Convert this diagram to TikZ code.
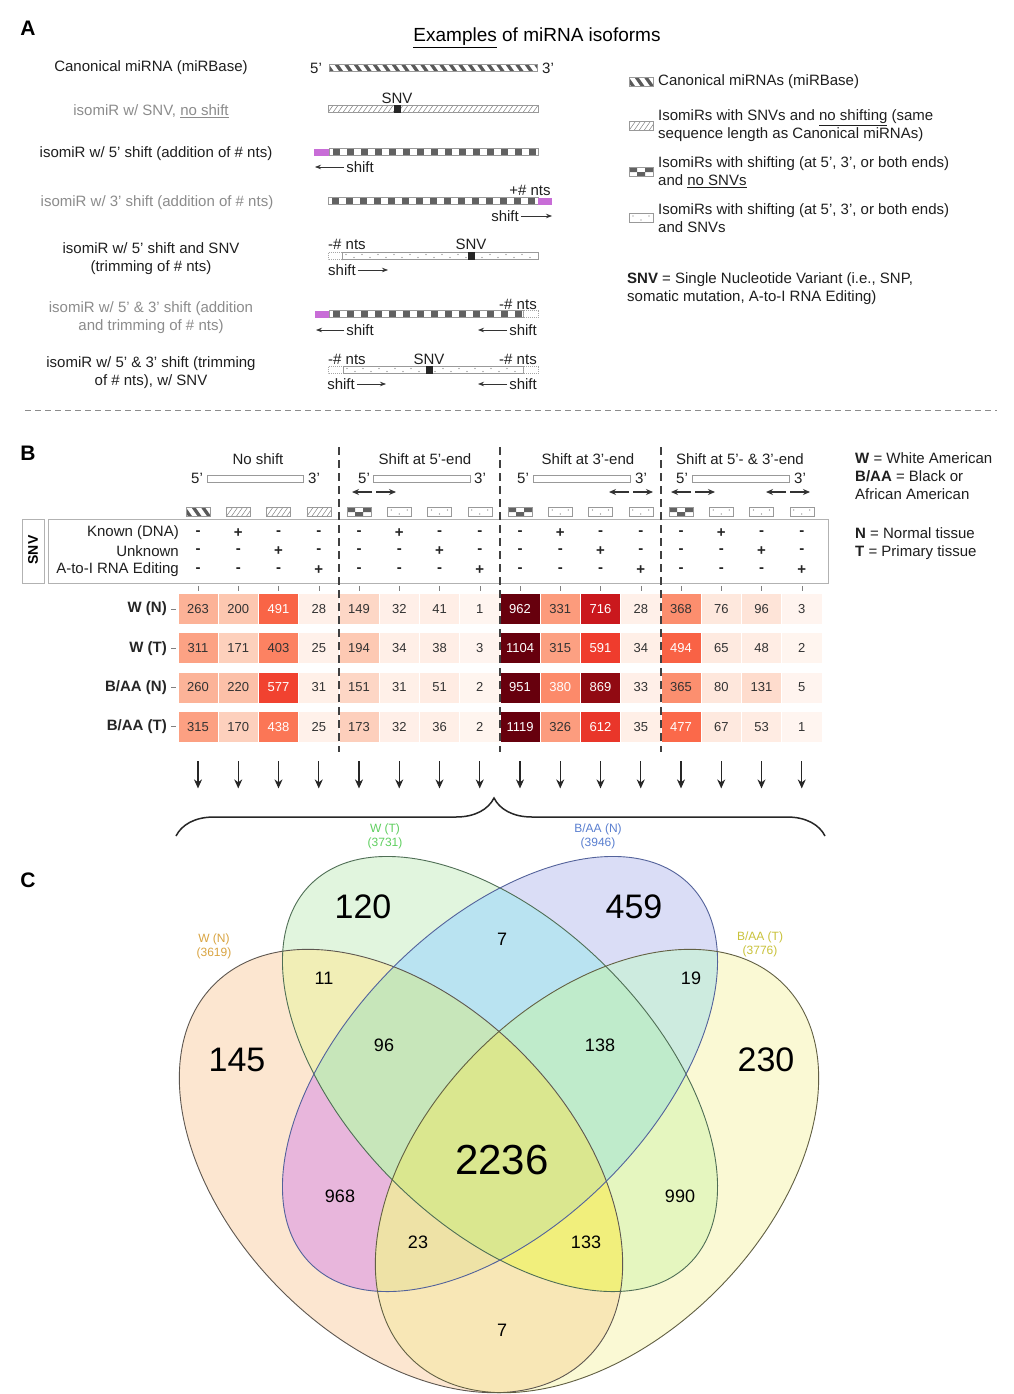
\documentclass[tikz,border=0pt]{standalone}
\usepackage{fontspec}
\setmainfont{Liberation Sans}
\usetikzlibrary{arrows.meta,positioning,decorations.pathreplacing}

\definecolor{rd0}{HTML}{FFF5F0}
\definecolor{rd1}{HTML}{FEE0D2}
\definecolor{rd2}{HTML}{FCBBA1}
\definecolor{rd3}{HTML}{FC9272}
\definecolor{rd4}{HTML}{FB6A4A}
\definecolor{rd5}{HTML}{EF3B2C}
\definecolor{rd6}{HTML}{CB181D}
\definecolor{rd7}{HTML}{A50F15}
\definecolor{rd8}{HTML}{67000D}
\definecolor{addpurple}{HTML}{C86DD7}
\definecolor{lwn}{HTML}{D9A441}
\definecolor{lwt}{HTML}{5FCF5F}
\definecolor{lban}{HTML}{5A7FD0}
\definecolor{lbat}{HTML}{C9C23A}
% Venn region colours
\definecolor{cA}{HTML}{FCE6D0}
\definecolor{cB}{HTML}{E1F5DE}
\definecolor{cC}{HTML}{DADDF6}
\definecolor{cD}{HTML}{FAF9D4}
\definecolor{cAB}{HTML}{F1EEB6}
\definecolor{cAC}{HTML}{E8B6DC}
\definecolor{cAD}{HTML}{F8E7B6}
\definecolor{cBC}{HTML}{B9E3F1}
\definecolor{cBD}{HTML}{E5F6BF}
\definecolor{cCD}{HTML}{CDEBDF}
\definecolor{cABC}{HTML}{C7E6BA}
\definecolor{cABD}{HTML}{F1EF7C}
\definecolor{cACD}{HTML}{EEE2A6}
\definecolor{cBCD}{HTML}{BFEBCB}
\definecolor{cABCD}{HTML}{DAE78F}
\definecolor{oA}{HTML}{5E5750}
\definecolor{oB}{HTML}{4F6E55}
\definecolor{oC}{HTML}{53629A}
\definecolor{oD}{HTML}{626043}

\tikzset{
  every picture/.style={font=\fontsize{15}{18}\selectfont},
  lbl/.style={align=center, inner sep=0pt, text=black!88},
  glbl/.style={lbl, text=black!45},
  panlbl/.style={font=\fontsize{21}{24}\selectfont\bfseries, inner sep=0pt},
  barline/.style={draw=black!40, line width=0.5pt},
  trimline/.style={draw=black!35, line width=0.5pt, dash pattern=on 1pt off 1pt},
  shiftarr/.style={-{Stealth[length=6pt,width=4.5pt]}, line width=0.7pt, black!80},
  duoarr/.style={-{Stealth[length=7pt,width=6pt]}, line width=1.2pt, black!80},
  sepline/.style={black!75, line width=1.8pt, dash pattern=on 8pt off 5pt},
  sign/.style={font=\fontsize{15}{18}\selectfont\bfseries, inner sep=0pt, text=black!85},
  heat/.style={rectangle, minimum width=40.25pt, minimum height=31pt, inner sep=0pt,
    draw=white, line width=0.6pt, font=\fontsize{13}{15}\selectfont},
  rowlbl/.style={anchor=east, inner sep=0pt, font=\fontsize{15}{18}\selectfont\bfseries, text=black!85},
  downarr/.style={-{Stealth[length=9pt,width=8pt]}, line width=1.1pt, black!85},
  bignum/.style={font=\fontsize{34}{40}\selectfont, inner sep=0pt},
  smallnum/.style={font=\fontsize{18}{22}\selectfont, inner sep=0pt},
  setlbl/.style={font=\fontsize{12}{14}\selectfont, align=center, inner sep=0pt},
  vring/.style={line width=0.9pt}
}

% bar fillings: x1 x2 y halfheight
\newcommand{\canonfill}[4]{%
  \begin{scope}
    \clip (#1,#3-#4) rectangle (#2,#3+#4);
    \pgfmathtruncatemacro{\nseg}{(#2-#1)/9.5+1}
    \foreach \k in {0,...,\nseg}
      \fill[black!65] (#1+9.5*\k-4,#3-#4) -- ++(4,0) -- ++(1.4*#4,2*#4) -- ++(-4,0) -- cycle;
  \end{scope}}
\newcommand{\hatchfill}[4]{%
  \begin{scope}
    \clip (#1,#3-#4) rectangle (#2,#3+#4);
    \pgfmathtruncatemacro{\nseg}{(#2-#1)/5+2}
    \foreach \k in {0,...,\nseg}
      \draw[black!50, line width=0.5pt] (#1+5*\k-5,#3+#4) -- ++(1.4*#4,-2*#4);
  \end{scope}}
\newcommand{\chkfill}[4]{%
  \begin{scope}
    \clip (#1,#3-#4) rectangle (#2,#3+#4);
    \pgfmathtruncatemacro{\nseg}{(#2-#1)/14+1}
    \foreach \k in {0,...,\nseg}
      \fill[black!62] (#1+14*\k+3.5,#3-#4) rectangle ++(7,2*#4);
  \end{scope}}
\newcommand{\spotfill}[4]{%
  \pgfmathtruncatemacro{\nseg}{(#2-#1)/8-1}
  \foreach \k in {0,...,\nseg}{
    \pgfmathtruncatemacro{\kodd}{mod(\k,2)}
    \pgfmathsetmacro{\kdy}{#3+#4*0.45*(2*\kodd-1)}
    \fill[black!55] (#1+4+8*\k,\kdy) circle (0.6);}}
\newcommand{\barframe}[4]{\draw[barline] (#1,#3-#4) rectangle (#2,#3+#4);}
\newcommand{\trimbox}[3]{\draw[trimline] (#1,#3-3.5) rectangle (#2,#3+3.5);}
\newcommand{\addbox}[3]{\fill[addpurple] (#1,#3-3.5) rectangle (#2,#3+3.5);}
\newcommand{\snvmark}[2]{\fill[black!85] (#1-3.5,#2-4) rectangle (#1+3.5,#2+4);}

\newcommand{\canonbar}[3]{\canonfill{#1}{#2}{#3}{3.5}\barframe{#1}{#2}{#3}{3.5}}
\newcommand{\hatchbar}[3]{\hatchfill{#1}{#2}{#3}{3.5}\barframe{#1}{#2}{#3}{3.5}}
\newcommand{\chkbar}[3]{\chkfill{#1}{#2}{#3}{3.5}\barframe{#1}{#2}{#3}{3.5}}
\newcommand{\spotbar}[3]{\spotfill{#1}{#2}{#3}{3.5}\barframe{#1}{#2}{#3}{3.5}}

% small legend icons: x-centre y
\newcommand{\icanon}[2]{\pgfmathsetmacro{\ila}{#1-12}\pgfmathsetmacro{\ilb}{#1+12}%
  \canonfill{\ila}{\ilb}{#2}{4.5}\barframe{\ila}{\ilb}{#2}{4.5}}
\newcommand{\ihatch}[2]{\pgfmathsetmacro{\ila}{#1-12}\pgfmathsetmacro{\ilb}{#1+12}%
  \hatchfill{\ila}{\ilb}{#2}{4.5}\barframe{\ila}{\ilb}{#2}{4.5}}
\newcommand{\ichk}[2]{\pgfmathsetmacro{\ila}{#1-12}\pgfmathsetmacro{\ilb}{#1+12}%
  \fill[black!62] (\ila,#2-4.5) rectangle ++(8,4.5) (\ila+16,#2-4.5) rectangle ++(8,4.5)
    (\ila+8,#2) rectangle ++(8,4.5);
  \barframe{\ila}{\ilb}{#2}{4.5}}
\newcommand{\ispot}[2]{\pgfmathsetmacro{\ila}{#1-12}\pgfmathsetmacro{\ilb}{#1+12}%
  \spotfill{\ila}{\ilb}{#2}{4.5}\barframe{\ila}{\ilb}{#2}{4.5}}

% the four Venn sets
\newcommand{\shpA}{[rotate around={-45:(cwn)}] (cwn) ellipse [x radius=264, y radius=169]}
\newcommand{\shpB}{[rotate around={-45:(cwt)}] (cwt) ellipse [x radius=268, y radius=151]}
\newcommand{\shpC}{[rotate around={45:(cban)}] (cban) ellipse [x radius=268, y radius=151]}
\newcommand{\shpD}{[rotate around={45:(cbat)}] (cbat) ellipse [x radius=264, y radius=169]}

\begin{document}
\begin{tikzpicture}[x=1pt,y=-1pt]
\useasboundingbox (0,0) rectangle (1013,1394);
\fill[white] (0,0) rectangle (1013,1394);

%panel A
\node[panlbl] (pA) at (28,28) {A};
\node[font=\fontsize{19}{22}\selectfont, inner sep=0pt] (ttl) at (537,38) {\underline{Examples} of miRNA isoforms};

\node[lbl] (r1) at (151,68) {Canonical miRNA (miRBase)};
\node[glbl] (r2) at (151,111) {isomiR w/ SNV, \underline{no shift}};
\node[lbl] (r3) at (156,154) {isomiR w/ 5' shift (addition of \# nts)};
\node[glbl] (r4) at (157,203) {isomiR w/ 3' shift (addition of \# nts)};
\node[lbl] (r5) at (151,259) {isomiR w/ 5' shift and SNV\\(trimming of \# nts)};
\node[glbl] (r6) at (151,318) {isomiR w/ 5' \& 3' shift (addition\\and trimming of \# nts)};
\node[lbl] (r7) at (151,373) {isomiR w/ 5' \& 3' shift (trimming\\of \# nts), w/ SNV};

% canonical
\node[lbl] (e5a) at (316,68) {5'};
\canonbar{329}{537}{68}
\node[lbl] (e3a) at (548,68) {3'};
% SNV, no shift
\hatchbar{328}{538}{109}
\snvmark{397}{109}
\node[lbl] (snvb) at (397,98) {SNV};
% 5' addition
\addbox{314}{329}{152}
\chkbar{329}{538}{152}
\node[lbl, inner sep=2pt] (shc) at (360,167) {shift};
\coordinate (shcend) at (315,167);
\draw[shiftarr] (shc) -- (shcend);
% 3' addition
\chkbar{328}{538}{201}
\addbox{538}{552}{201}
\node[lbl] (ntsd) at (530,190) {+\# nts};
\node[lbl, inner sep=2pt] (shd) at (505,216) {shift};
\coordinate (shdend) at (552,216);
\draw[shiftarr] (shd) -- (shdend);
% 5' trimming with SNV
\trimbox{328}{342}{256}
\spotbar{342}{538}{256}
\snvmark{471}{256}
\node[lbl] (ntse) at (347,244) {-\# nts};
\node[lbl] (snve) at (471,244) {SNV};
\node[lbl, inner sep=2pt] (she) at (342,270) {shift};
\coordinate (sheend) at (388,270);
\draw[shiftarr] (she) -- (sheend);
% 5' addition, 3' trimming
\addbox{315}{329}{314}
\chkbar{329}{523}{314}
\trimbox{523}{538}{314}
\node[lbl] (ntsf) at (518,304) {-\# nts};
\node[lbl, inner sep=2pt] (shf1) at (360,330) {shift};
\coordinate (shf1end) at (316,330);
\draw[shiftarr] (shf1) -- (shf1end);
\node[lbl, inner sep=2pt] (shf2) at (523,330) {shift};
\coordinate (shf2end) at (478,330);
\draw[shiftarr] (shf2) -- (shf2end);
% both trimmed with SNV
\trimbox{328}{343}{370}
\spotbar{343}{523}{370}
\trimbox{523}{538}{370}
\snvmark{429}{370}
\node[lbl] (ntsg1) at (347,359) {-\# nts};
\node[lbl] (snvg) at (429,359) {SNV};
\node[lbl] (ntsg2) at (518,359) {-\# nts};
\node[lbl, inner sep=2pt] (shg1) at (341,384) {shift};
\coordinate (shg1end) at (386,384);
\draw[shiftarr] (shg1) -- (shg1end);
\node[lbl, inner sep=2pt] (shg2) at (523,384) {shift};
\coordinate (shg2end) at (478,384);
\draw[shiftarr] (shg2) -- (shg2end);

% legend
\icanon{641}{82}
\node[lbl, anchor=west, align=left] (lg1) at (658,82) {Canonical miRNAs (miRBase)};
\ihatch{641}{126}
\node[lbl, anchor=west, align=left] (lg2) at (658,126) {IsomiRs with SNVs and \underline{no shifting} (same\\sequence length as Canonical miRNAs)};
\ichk{641}{172}
\node[lbl, anchor=west, align=left] (lg3) at (658,172) {IsomiRs with shifting (at 5', 3', or both ends)\\and \underline{no SNVs}};
\ispot{641}{218}
\node[lbl, anchor=west, align=left] (lg4) at (658,218) {IsomiRs with shifting (at 5', 3', or both ends)\\and SNVs};
\node[lbl, anchor=west, align=left] (lgsnv) at (627,289) {\textbf{SNV} = Single Nucleotide Variant (i.e., SNP,\\somatic mutation, A-to-I RNA Editing)};

\coordinate (cutL) at (25,410);
\coordinate (cutR) at (997,410);
\draw[black!45, line width=0.8pt, dash pattern=on 6pt off 4pt] (cutL) -- (cutR);

%panel B
\node[panlbl] (pB) at (28,453) {B};
\node[lbl] (gh1) at (258,459) {No shift};
\node[lbl] (gh2) at (425,459) {Shift at 5'-end};
\node[lbl] (gh3) at (588,459) {Shift at 3'-end};
\node[lbl] (gh4) at (740,459) {Shift at 5'- \& 3'-end};
\foreach \pa/\pb/\pc/\pd [count=\q] in {197/207/303/314, 364/373/470/480, 523/533/630/641, 682/692/789/800}{
  \node[lbl] (gf\q) at (\pa,478) {5'};
  \draw[barline, fill=white] (\pb,475) rectangle (\pc,482);
  \node[lbl] (gt\q) at (\pd,478) {3'};
}
\foreach \mid [count=\q] in {374,631,693,788}{
  \coordinate (dl\q) at (\mid-22,492);
  \coordinate (dr\q) at (\mid+22,492);
  \coordinate (dm\q) at (\mid,492);
  \draw[duoarr] ([xshift=-2pt]dm\q) -- (dl\q);
  \draw[duoarr] ([xshift=2pt]dm\q) -- (dr\q);
}

% SNV table
\draw[black!30, line width=0.7pt] (48,519) rectangle (828,583);
\draw[black!30, line width=0.7pt] (22,519) rectangle (44,583);
\node[rotate=90, font=\fontsize{14}{16}\selectfont\bfseries, inner sep=0pt] (snvt) at (33,550) {SNV};
\node[lbl, anchor=east] (tk1) at (179,533) {Known (DNA)};
\node[lbl, anchor=east] (tk2) at (179,551) {Unknown};
\node[lbl, anchor=east] (tk3) at (179,570) {A-to-I RNA Editing};

\foreach \c in {0,...,15}{
  \pgfmathsetmacro{\cx}{198+40.25*\c}
  \pgfmathtruncatemacro{\gi}{mod(\c,4)}
  \pgfmathtruncatemacro{\gn}{div(\c,4)}
  \ifnum\gi=0
    \ifnum\gn=0 \icanon{\cx}{512}\else\ichk{\cx}{512}\fi
  \else
    \ifnum\gn=0 \ihatch{\cx}{512}\else\ispot{\cx}{512}\fi
  \fi
  \foreach \r/\ry in {1/533,2/551,3/570}{
    \ifnum\gi=\r\relax\def\sg{+}\else\def\sg{-}\fi
    \node[sign] (sg\c-\r) at (\cx,\ry) {\sg};
  }
  \draw[black!50, line width=0.5pt] (\cx,586) -- (\cx,591);
}

% heatmap
\foreach \v [count=\k from 0] in {263,200,491,28,149,32,41,1,962,331,716,28,368,76,96,3,
  311,171,403,25,194,34,38,3,1104,315,591,34,494,65,48,2,
  260,220,577,31,151,31,51,2,951,380,869,33,365,80,131,5,
  315,170,438,25,173,32,36,2,1119,326,612,35,477,67,53,1}{
  \pgfmathtruncatemacro{\hr}{div(\k,16)}
  \pgfmathtruncatemacro{\hc}{mod(\k,16)}
  \pgfmathsetmacro{\hx}{198+40.25*\hc}
  \pgfmathsetmacro{\hy}{609+39.2*\hr}
  \pgfmathsetmacro{\hs}{min(\v/950,1)*8}
  \pgfmathtruncatemacro{\hi}{min(floor(\hs),7)}
  \pgfmathtruncatemacro{\hj}{\hi+1}
  \pgfmathsetmacro{\hp}{(\hs-\hi)*100}
  \colorlet{cellc}{rd\hj!\hp!rd\hi}
  \pgfmathtruncatemacro{\hw}{(\v>430)||(\v==380)}
  \ifnum\hw=1 \def\htc{white}\else\def\htc{black!80}\fi
  \node[heat, fill=cellc, text=\htc] (h\hr-\hc) at (\hx,\hy) {\v};
}
\foreach \lab [count=\q from 0] in {W (N),W (T),B/AA (N),B/AA (T)}{
  \node[rowlbl] (rl\q) at (167,609+39.2*\q) {\lab};
  \draw[black!50, line width=0.5pt] (171,609+39.2*\q) -- (176,609+39.2*\q);
}
\foreach \sx in {339,500,661}
  \draw[sepline] (\sx,447) -- (\sx,752);

\node[lbl, anchor=north west, align=left] (keyA) at (855,452) {\textbf{W} = White American\\\textbf{B/AA} = Black or\\African American};
\node[lbl, anchor=north west, align=left] (keyB) at (855,527) {\textbf{N} = Normal tissue\\\textbf{T} = Primary tissue};

% arrows to the Venn diagram
\foreach \c in {0,...,15}
  \draw[downarr] (h3-\c.south) ++(0,19) -- ++(0,27);
\coordinate (brL) at (176,836);
\coordinate (brR) at (825,836);
\draw[decorate, decoration={brace, amplitude=38pt, aspect=0.49}, line width=1.5pt, black!85] (brL) -- (brR);

%panel C
\node[panlbl] (pC) at (28,880) {C};
\coordinate (cwn) at (401,1171);
\coordinate (cwt) at (500,1074);
\coordinate (cban) at (500,1074);
\coordinate (cbat) at (597,1171);
% one set
\fill[cA] \shpA;
\fill[cB] \shpB;
\fill[cC] \shpC;
\fill[cD] \shpD;
% two sets
\begin{scope}\clip \shpA; \fill[cAB] \shpB; \end{scope}
\begin{scope}\clip \shpA; \fill[cAC] \shpC; \end{scope}
\begin{scope}\clip \shpA; \fill[cAD] \shpD; \end{scope}
\begin{scope}\clip \shpB; \fill[cBC] \shpC; \end{scope}
\begin{scope}\clip \shpB; \fill[cBD] \shpD; \end{scope}
\begin{scope}\clip \shpC; \fill[cCD] \shpD; \end{scope}
% three sets
\begin{scope}\clip \shpA; \clip \shpB; \fill[cABC] \shpC; \end{scope}
\begin{scope}\clip \shpA; \clip \shpB; \fill[cABD] \shpD; \end{scope}
\begin{scope}\clip \shpA; \clip \shpC; \fill[cACD] \shpD; \end{scope}
\begin{scope}\clip \shpB; \clip \shpC; \fill[cBCD] \shpD; \end{scope}
% all four
\begin{scope}\clip \shpA; \clip \shpB; \clip \shpC; \fill[cABCD] \shpD; \end{scope}
\draw[vring, draw=oA] \shpA;
\draw[vring, draw=oB] \shpB;
\draw[vring, draw=oC] \shpC;
\draw[vring, draw=oD] \shpD;

\node[setlbl, text=lwt] (swt) at (385,836) {W (T)\\(3731)};
\node[setlbl, text=lban] (sban) at (598,836) {B/AA (N)\\(3946)};
\node[setlbl, text=lwn] (swn) at (214,946) {W (N)\\(3619)};
\node[setlbl, text=lbat] (sbat) at (760,944) {B/AA (T)\\(3776)};

\node[bignum] (v120) at (363,907) {120};
\node[bignum] (v459) at (634,907) {459};
\node[bignum] (v145) at (237,1060) {145};
\node[bignum] (v230) at (766,1060) {230};
\node[font=\fontsize{42}{48}\selectfont, inner sep=0pt] (v2236) at (502,1160) {2236};
\node[smallnum] (v7a) at (502,939) {7};
\node[smallnum] (v11) at (324,978) {11};
\node[smallnum] (v19) at (691,978) {19};
\node[smallnum] (v96) at (384,1045) {96};
\node[smallnum] (v138) at (600,1045) {138};
\node[smallnum] (v968) at (340,1196) {968};
\node[smallnum] (v990) at (680,1196) {990};
\node[smallnum] (v23) at (418,1242) {23};
\node[smallnum] (v133) at (586,1242) {133};
\node[smallnum] (v7b) at (502,1330) {7};
\end{tikzpicture}
\end{document}
